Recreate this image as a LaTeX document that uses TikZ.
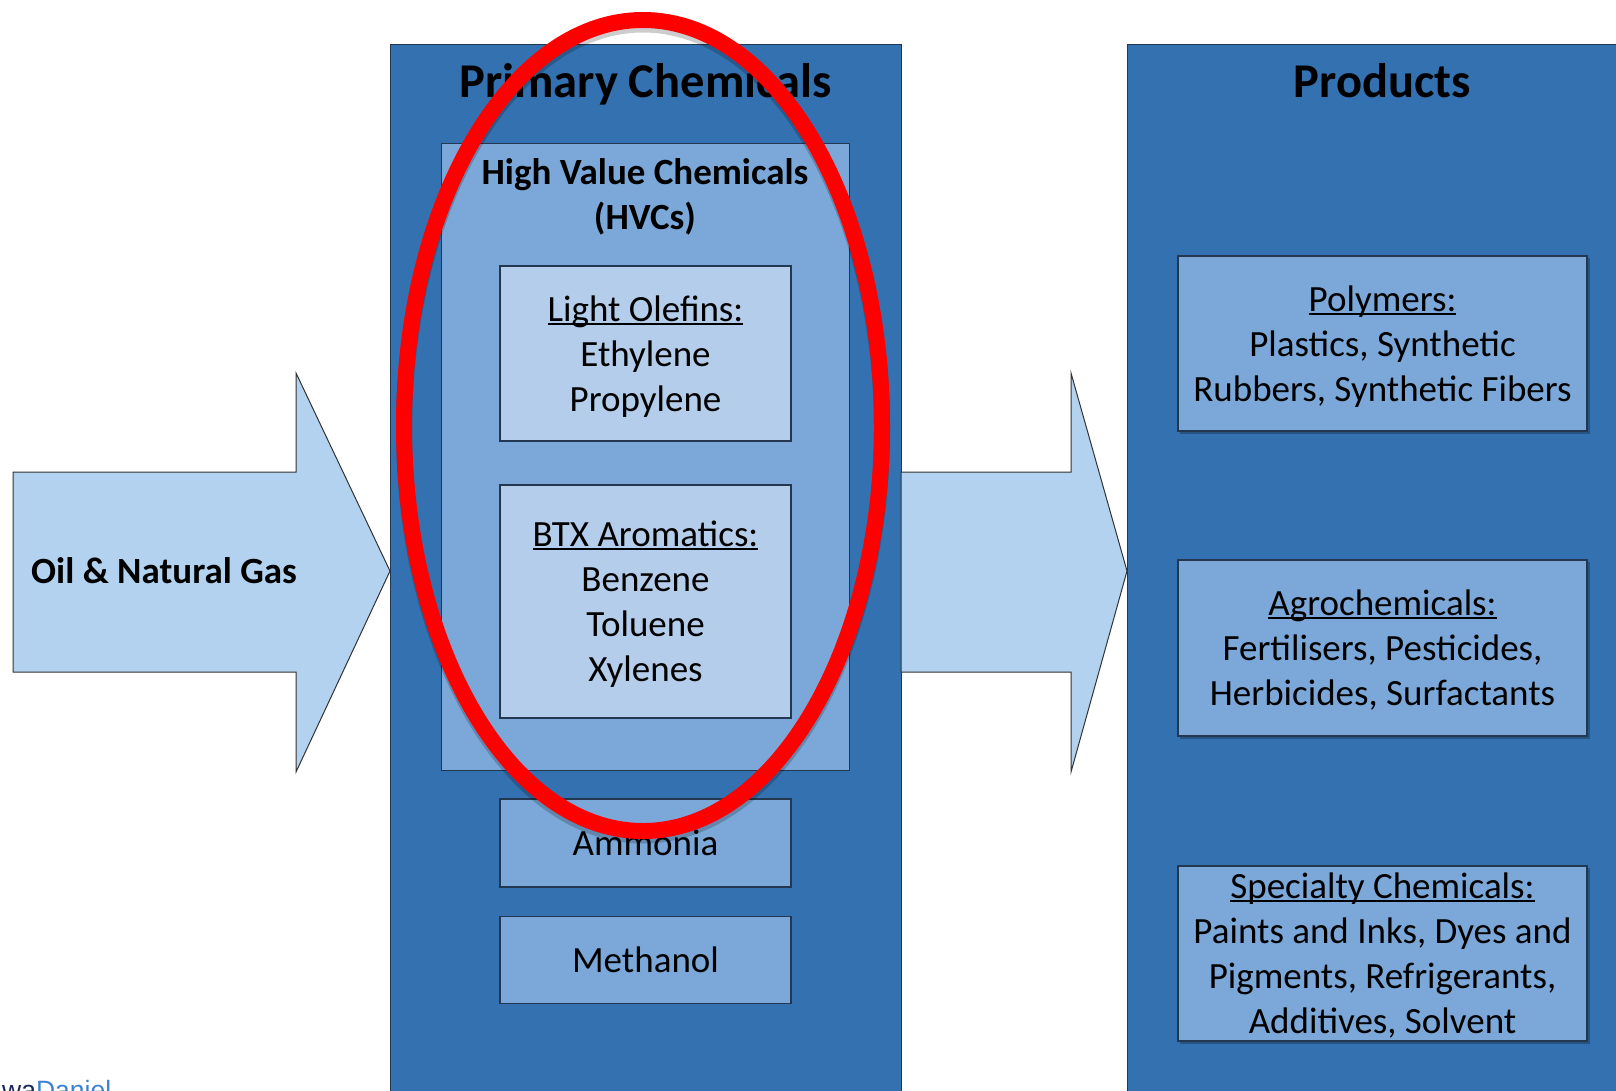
\documentclass[tikz,border=0pt]{standalone}
\usepackage{fontspec}
\setmainfont{Carlito}
\newfontfamily\creditfont{Liberation Sans}
\usetikzlibrary{shapes.geometric}

\definecolor{colfill}{RGB}{51,113,176}
\definecolor{boxfill}{RGB}{123,168,216}
\definecolor{innerfill}{RGB}{180,205,234}
\definecolor{arrowfill}{RGB}{178,210,240}
\definecolor{edgecol}{RGB}{35,55,80}
\definecolor{creditdark}{RGB}{25,40,90}
\definecolor{creditblue}{RGB}{60,130,210}

% body and heading sizes (1 unit = 1pt)
\newcommand\diagbody{\fontsize{37}{45}\selectfont}
\newcommand\diagtitle{\fontsize{48.5}{56}\selectfont\bfseries}
% underline at a fixed depth, crossing descenders
\newcommand\ulabel[1]{\setbox0\hbox{#1}\rlap{\rule[-0.09em]{\wd0}{0.055em}}\box0}

\tikzset{
  column/.style={draw=edgecol, line width=1.3pt, fill=colfill, inner sep=0pt, anchor=north west},
  midbox/.style={draw=edgecol, line width=1.3pt, fill=boxfill, align=center, inner sep=0pt,
                 font=\diagbody, text depth=0pt},
  litebox/.style={midbox, fill=innerfill},
  blockarrow/.style={draw=black!80, line width=1pt, fill=arrowfill, line join=miter},
  heading/.style={font=\diagtitle, inner sep=0pt, anchor=base},
  boxshadow/.style={fill=black, opacity=0.25},
}

\begin{document}
\begin{tikzpicture}[x=1pt, y=-1pt]
\clip (0,0) rectangle (1616,1090);
\fill[white] (0,0) rectangle (1616,1090);

% columns
\node[column, minimum width=511pt, minimum height=1070pt] (primary) at (390,44) {};
\node[column, minimum width=520pt, minimum height=1070pt] (products) at (1127,44) {};

% block arrows
\draw[blockarrow] (13,472) -- (296,472) -- (296,373) -- (390,571) -- (296,772)
  -- (296,672) -- (13,672) -- cycle;
\draw[blockarrow] (901,472) -- (1071,472) -- (1071,373) -- (1127,571) -- (1071,772)
  -- (1071,672) -- (901,672) -- cycle;
\node[font=\diagbody\bfseries, inner sep=0pt, anchor=base west] (feed) at (31,583) {Oil \& Natural Gas};

% headings
\node[heading] (primtitle) at (645.5,97) {Primary Chemicals};
\node[heading] (prodtitle) at (1382.5,97) {Products};

% high value chemicals group
\node[midbox, minimum width=408pt, minimum height=627pt, anchor=north west] (hvc) at (441,143) {};
\node[font=\diagbody\bfseries, align=center, inner sep=0pt, anchor=base] (hvctitle) at (645,229)
  {High Value Chemicals\\(HVCs)};

\node[litebox, minimum width=291pt, minimum height=175pt] (olefins) at (645.5,353.5)
  {\ulabel{Light Olefins:}\\Ethylene\\Propylene};
\node[litebox, minimum width=291pt, minimum height=233pt] (btx) at (645.5,601.5)
  {\ulabel{BTX Aromatics:}\\Benzene\\Toluene\\Xylenes};

\node[midbox, minimum width=291pt, minimum height=88pt] (ammonia) at (645.5,843) {Ammonia};
\node[midbox, minimum width=291pt, minimum height=87pt] (methanol) at (645.5,960) {Methanol};

% product groups
\fill[boxshadow] (1180,258) rectangle (1589.5,433.5);
\fill[boxshadow] (1180,562) rectangle (1589.5,738.5);
\fill[boxshadow] (1180,868) rectangle (1589.5,1043.5);
\node[midbox, minimum width=409pt, minimum height=175pt] (polymers) at (1382.5,343.5)
  {\ulabel{Polymers:}\\Plastics, Synthetic\\Rubbers, Synthetic Fibers};
\node[midbox, minimum width=409pt, minimum height=176pt] (agro) at (1382.5,648)
  {\ulabel{Agrochemicals:}\\Fertilisers, Pesticides,\\Herbicides, Surfactants};
\node[midbox, minimum width=409pt, minimum height=175pt] (specialty) at (1382.5,953.5)
  {\ulabel{Specialty Chemicals:}\\Paints and Inks, Dyes and\\Pigments, Refrigerants,\\Additives, Solvent};

% highlight ring
\node[ellipse, draw=black, opacity=0.2, line width=16pt, minimum width=478pt,
      minimum height=811pt, inner sep=0pt] (ringshade) at (643,430) {};
\node[ellipse, draw=red, line width=16pt, minimum width=478pt, minimum height=811pt,
      inner sep=0pt] (ring) at (643,425.5) {};

% credit
\node[font=\creditfont\fontsize{26.5}{30}\selectfont, inner sep=0pt, anchor=base west] (credit)
  at (2,1099) {\textcolor{creditdark}{wa}\textcolor{creditblue}{Daniel}};
\end{tikzpicture}
\end{document}
